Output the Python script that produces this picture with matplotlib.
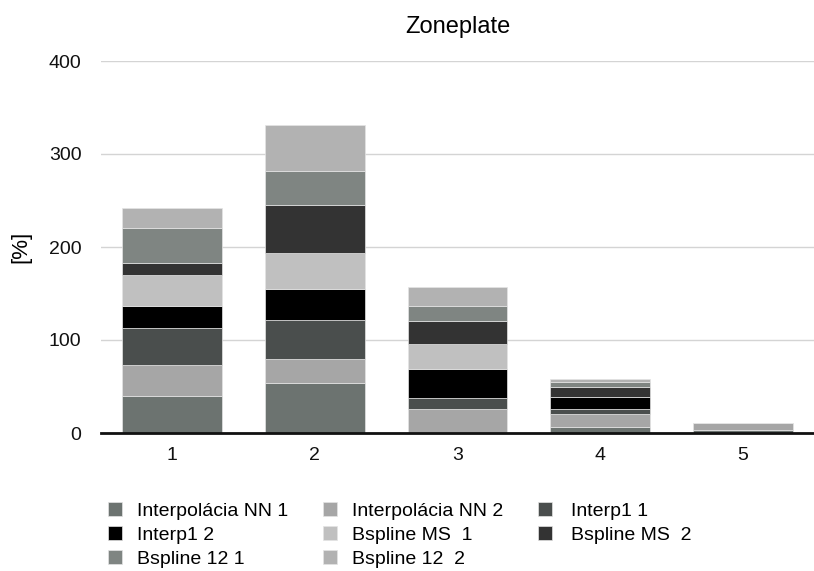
import matplotlib
matplotlib.use("Agg")
import matplotlib.pyplot as plt
import numpy as np

plt.rcParams['font.family'] = ['Liberation Sans', 'DejaVu Sans']

categories = ["1", "2", "3", "4", "5"]

series_names = [
    "Interpolácia NN 1", "Interpolácia NN 2", "Interp1 1", "Interp1 2",
    "Bspline MS  1", "Bspline MS  2", "Bspline 12 1", "Bspline 12  2",
]
nn_1 = [39.8, 53.4, 0.0, 6.1, 3.0]
nn_2 = [33.3, 25.8, 26.1, 14.0, 8.0]
interp1_1 = [39.5, 42.3, 11.9, 5.7, 0.0]
interp1_2 = [24.3, 33.0, 30.8, 13.2, 0.0]
bspline_ms_1 = [33.0, 38.7, 26.9, 0.0, 0.0]
bspline_ms_2 = [12.6, 52.0, 25.1, 10.8, 0.0]
bspline_12_1 = [38.3, 36.5, 16.1, 5.1, 0.0]
bspline_12_2 = [20.8, 49.5, 20.4, 3.2, 0.0]

series_values = [nn_1, nn_2, interp1_1, interp1_2,
                 bspline_ms_1, bspline_ms_2, bspline_12_1, bspline_12_2]
colors = ["#6c7370", "#a6a6a6", "#4a4e4d", "#000000",
          "#c0c0c0", "#333333", "#7f8582", "#b2b2b2"]

fig = plt.figure(figsize=(8.14, 5.71), dpi=100)
ax = fig.add_axes([101 / 814, 1 - 433 / 571, 713 / 814, 372 / 571])

x = np.arange(len(categories))
bottom = np.zeros(len(categories))
handles = []
for name, vals, col in zip(series_names, series_values, colors):
    vals = np.array(vals)
    h = ax.bar(x, vals, width=0.7, bottom=bottom, color=col,
               edgecolor="#e4e4e4", linewidth=0.5, label=name, zorder=3)
    handles.append(h)
    bottom += vals

ax.set_xlim(-0.5, len(categories) - 0.5)
ax.set_ylim(0, 400)
ax.set_yticks([0, 100, 200, 300, 400])
ax.set_xticks(x)
ax.set_xticklabels(categories)
ax.tick_params(axis="both", length=0, labelsize=14, colors="#111111")
ax.tick_params(axis="y", pad=14)
ax.tick_params(axis="x", pad=10)
ax.grid(axis="y", color="#d4d4d4", linewidth=1, zorder=0)
for s in ["top", "right", "left"]:
    ax.spines[s].set_visible(False)
ax.spines["bottom"].set_color("#111111")
ax.spines["bottom"].set_linewidth(2)
ax.spines["bottom"].set_zorder(5)

ax.set_ylabel("[%]", fontsize=16)
ax.yaxis.set_label_coords((31 - 101) / 713, 0.5)
ax.set_title("Zoneplate", fontsize=17, pad=20)

# legend: three columns, filled row by row
columns = [[0, 3, 6], [1, 4, 7], [2, 5]]
col_x = [108, 323, 538]
text_pad = [0.77, 0.77, 0.98]
for idx, cx, tp in zip(columns, col_x, text_pad):
    fig.legend([handles[i] for i in idx], [series_names[i] for i in idx],
               loc="upper left", bbox_to_anchor=(cx / 814, 1 - 502 / 571),
               frameon=False, fontsize=14, handlelength=0.72, handleheight=0.72,
               handletextpad=tp, labelspacing=0.32,
               borderaxespad=0, borderpad=0)

fig.savefig("out.png", dpi=100)
